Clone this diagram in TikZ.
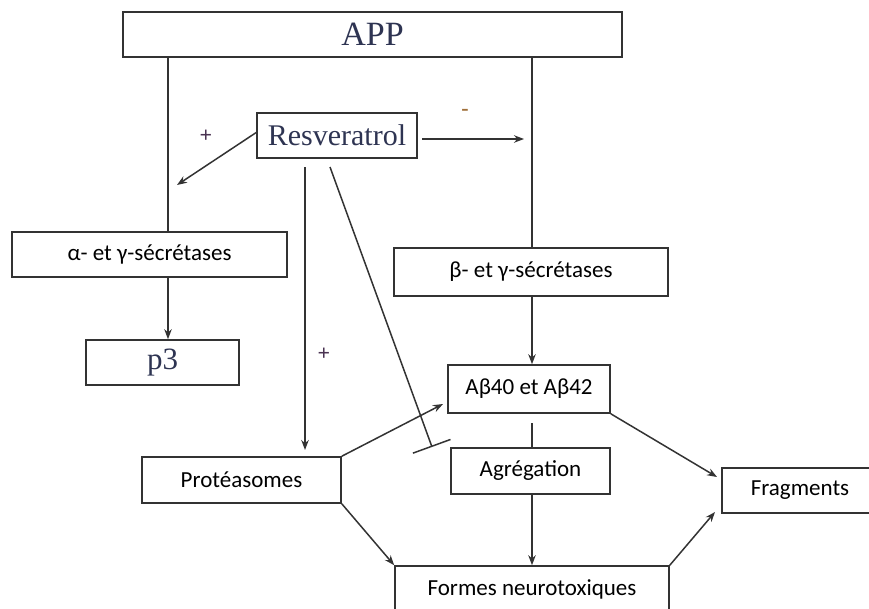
\documentclass[tikz,border=0pt]{standalone}
\usepackage{fontspec}
\setmainfont{Liberation Serif}
\newfontfamily\sansf{Carlito}
\usetikzlibrary{arrows.meta}
\definecolor{boxline}{HTML}{333333}
\definecolor{serifink}{HTML}{2E3452}
\definecolor{plusink}{HTML}{4A3352}
\definecolor{minusink}{HTML}{A0703A}
\tikzset{
  box/.style={draw=boxline, line width=1.6pt, rectangle, inner sep=0pt, anchor=center},
  serifbox/.style={box, text=serifink, font=\fontsize{30}{32}\selectfont},
  sansbox/.style={box, text=black, font=\sansf\fontsize{23}{25}\selectfont},
  conn/.style={draw=boxline, line width=1.5pt},
  arr/.style={conn, -{Stealth[length=10pt,width=7.5pt]}},
  inhib/.style={conn, -{Bar[width=40pt,line width=1.5pt]}},
  sign/.style={inner sep=0pt, font=\bfseries\fontsize{22}{24}\selectfont}
}
\begin{document}
\begin{tikzpicture}[x=1pt,y=-1pt]
\useasboundingbox (0,0) rectangle (869,608);
% boxes
\node[serifbox, minimum width=499pt, minimum height=45pt, font=\fontsize{34}{36}\selectfont] (app) at (372.5,34.5) {APP};
\node[serifbox, minimum width=160pt, minimum height=45pt] (res) at (337,135.5) {Resveratrol};
\node[sansbox, minimum width=275pt, minimum height=45pt] (alpha) at (149.5,254.5) {α- et γ-sécrétases};
\node[serifbox, minimum width=153pt, minimum height=45pt, font=\fontsize{31}{33}\selectfont] (p3) at (162.5,362.5) {p3};
\node[sansbox, minimum width=274pt, minimum height=48pt] (beta) at (531,272) {β- et γ-sécrétases};
\node[sansbox, minimum width=162pt, minimum height=48pt] (ab) at (529,389) {Aβ40 et Aβ42};
\node[sansbox, minimum width=159pt, minimum height=46pt] (agr) at (530.5,471) {Agrégation};
\node[sansbox, minimum width=199pt, minimum height=46pt] (prot) at (241.5,480) {Protéasomes};
\node[sansbox, minimum width=156pt, minimum height=45pt] (frag) at (800,490.5) {Fragments};
\node[sansbox, minimum width=274pt, minimum height=46pt] (formes) at (532,589) {Formes neurotoxiques};
% signs
\node[sign, text=plusink] (plusa) at (206,136) {+};
\node[sign, text=minusink] (minus) at (465,112) {-};
\node[sign, text=plusink] (plusb) at (324,354) {+};
% helper coordinates
\coordinate (resL) at (257,132);
\coordinate (tipA) at (177,185);
\coordinate (resR) at (422,139);
\coordinate (tipB) at (524,139);
\coordinate (resD1) at (305,167);
\coordinate (tipP) at (305,450);
\coordinate (resD2) at (330,167);
\coordinate (barE) at (432,447);
\coordinate (tipAb) at (443,404);
\coordinate (abD) at (532,423);
\coordinate (tipF1) at (717,477);
\coordinate (tipF2) at (715,512);
% connectors
\draw[conn] (168,57 |- app.south) -- (168,232 |- alpha.north);
\draw[conn] (532,57 |- app.south) -- (532,248 |- beta.north);
\draw[arr] (resL) -- (tipA);
\draw[arr] (resR) -- (tipB);
\draw[arr] (168,277 |- alpha.south) -- (168,340 |- p3.north);
\draw[arr] (532,296 |- beta.south) -- (532,365 |- ab.north);
\draw[arr] (resD1) -- (tipP);
\draw[inhib] (resD2) -- (barE);
\draw[arr] (prot.north east) -- (tipAb);
\draw[conn] (abD) -- (532,448 |- agr.north);
\draw[arr] (532,494 |- agr.south) -- (532,566 |- formes.north);
\draw[arr] (prot.south east) -- (formes.north west);
\draw[arr] (ab.south east) -- (tipF1);
\draw[arr] (formes.north east) -- (tipF2);
\end{tikzpicture}
\end{document}
